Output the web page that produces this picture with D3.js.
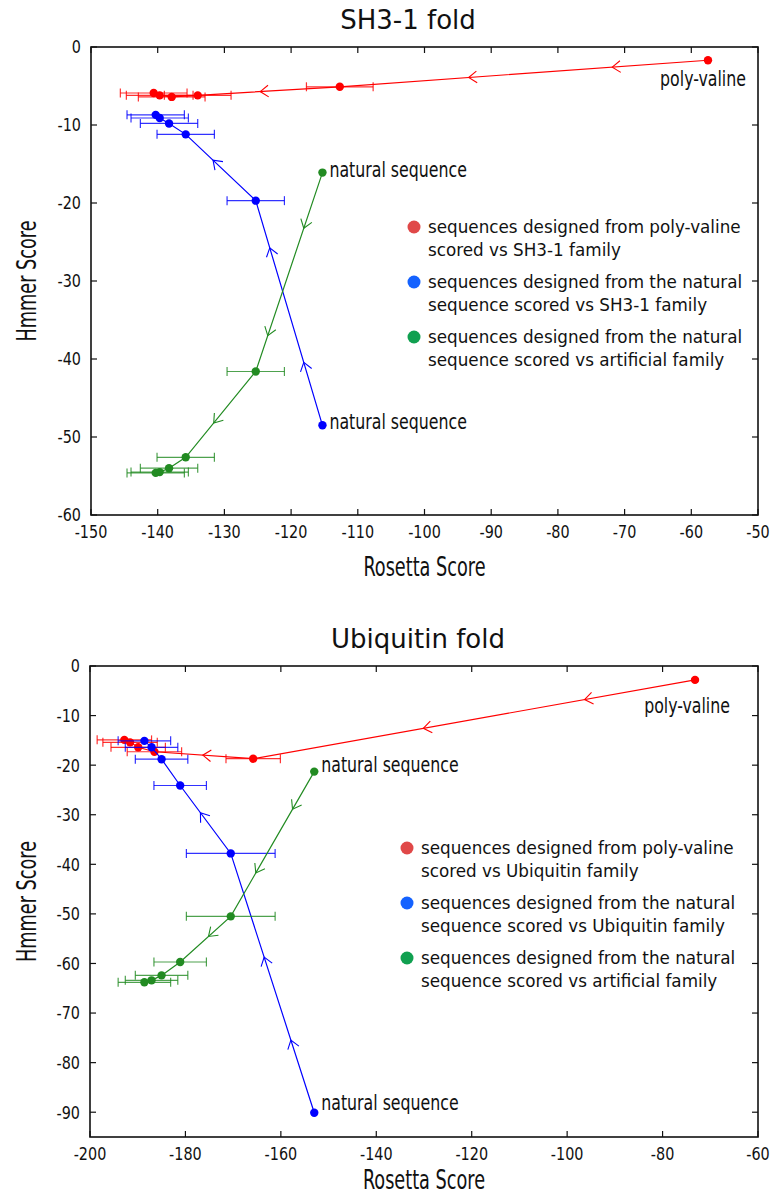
<!DOCTYPE html>
<html>
<head>
<meta charset="utf-8">
<script src="https://cdn.jsdelivr.net/npm/d3@7"></script>
<style>
  body { margin: 0; background: #fff; }
  svg { display: block; }
</style>
</head>
<body>
<div id="viz"></div>
<script>
// ---- SH3-1 fold data ----
var sh3RedX   = [-57.5, -112.7, -134.0, -137.9, -139.7, -140.6];
var sh3RedY   = [-1.7, -5.1, -6.2, -6.4, -6.2, -5.9];
var sh3RedErr = [0, 5, 5, 5, 5, 5];
var sh3NatX   = [-115.3, -125.3, -135.8, -138.3, -139.7, -140.3];
var sh3BlueY  = [-48.5, -19.7, -11.2, -9.8, -9.1, -8.7];
var sh3GreenY = [-16.1, -41.6, -52.6, -54.0, -54.5, -54.6];
var sh3NatErr = [0, 4.3, 4.3, 4.3, 4.3, 4.3];
// arrows: [segment index, fraction along segment]
var sh3RedArrows   = [[0, 0.26], [0, 0.65], [1, 0.56]];
var sh3BlueArrows  = [[0, 0.28], [0, 0.79], [1, 0.61]];
var sh3GreenArrows = [[0, 0.28], [0, 0.82], [1, 0.60]];
var sh3XTicks = [-150, -140, -130, -120, -110, -100, -90, -80, -70, -60, -50];
var sh3YTicks = [0, -10, -20, -30, -40, -50, -60];

// ---- Ubiquitin fold data ----
var ubqRedX   = [-73.2, -165.8, -186.5, -189.9, -191.6, -192.8];
var ubqRedY   = [-2.8, -18.7, -17.3, -16.4, -15.4, -14.9];
var ubqRedErr = [0, 5.7, 5.7, 5.7, 5.7, 5.7];
var ubqNatX   = [-153.0, -170.5, -181.1, -185.0, -187.1, -188.6];
var ubqBlueY  = [-90.1, -37.8, -24.1, -18.8, -16.4, -15.1];
var ubqGreenY = [-21.3, -50.5, -59.7, -62.4, -63.4, -63.8];
var ubqNatErr = [0, 9.3, 5.5, 5.5, 5.5, 5.5];
var ubqRedArrows   = [[0, 0.25], [0, 0.615], [1, 0.51]];
var ubqBlueArrows  = [[0, 0.28], [0, 0.60], [1, 0.60]];
var ubqGreenArrows = [[0, 0.26], [0, 0.70], [1, 0.44]];
var ubqXTicks = [-200, -180, -160, -140, -120, -100, -80, -60];
var ubqYTicks = [0, -10, -20, -30, -40, -50, -60, -70, -80, -90];

var legendSh3 = [
  ["sequences designed from poly-valine", "scored vs SH3-1 family"],
  ["sequences designed from the natural", "sequence scored vs SH3-1 family"],
  ["sequences designed from the natural", "sequence scored vs artificial family"]
];
var legendUbq = [
  ["sequences designed from poly-valine", "scored vs Ubiquitin family"],
  ["sequences designed from the natural", "sequence scored vs Ubiquitin family"],
  ["sequences designed from the natural", "sequence scored vs artificial family"]
];

var lineColors = ["#ff0000", "#0000ff", "#228b22"];
var legendColors = ["#e04848", "#1462ff", "#10a050"];

var svg = d3.select("#viz")
  .append("svg")
    .attr("width", 771)
    .attr("height", 1195);

var tickFont = "'Liberation Sans Narrow', 'DejaVu Sans Condensed', sans-serif";
var labelFont = "'DejaVu Sans Condensed', 'DejaVu Sans', sans-serif";

// text with a vertical stretch like the original picture
function stretchText(g, x, y, str, opts) {
  return g.append("text")
    .attr("transform", "translate(" + x + "," + y + ")" + (opts.rotate ? " rotate(-90)" : "") +
          " scale(" + (opts.sx || 1) + "," + (opts.sy || 1) + ")")
    .attr("text-anchor", opts.anchor || "middle")
    .attr("dominant-baseline", "central")
    .style("font-family", opts.font || labelFont)
    .style("font-size", opts.size + "px")
    .style("fill", opts.color || "#222")
    .text(str);
}

function drawChart(cfg) {
  var g = svg.append("g");
  var x = d3.scaleLinear().domain(cfg.xDomain).range([cfg.left, cfg.right]);
  var y = d3.scaleLinear().domain(cfg.yDomain).range([cfg.bottom, cfg.top]);

  // frame
  g.append("rect")
    .attr("x", cfg.left).attr("y", cfg.top)
    .attr("width", cfg.right - cfg.left).attr("height", cfg.bottom - cfg.top)
    .style("fill", "none").style("stroke", "#111").style("stroke-width", 1.6);

  // inward ticks on all 4 sides
  var tl = 6;
  cfg.xTicks.forEach(function(t) {
    g.append("line").attr("x1", x(t)).attr("x2", x(t)).attr("y1", cfg.bottom).attr("y2", cfg.bottom - tl)
      .style("stroke", "#111").style("stroke-width", 1.2);
    g.append("line").attr("x1", x(t)).attr("x2", x(t)).attr("y1", cfg.top).attr("y2", cfg.top + tl)
      .style("stroke", "#111").style("stroke-width", 1.2);
    stretchText(g, x(t), cfg.bottom + 17, t, {size: 16, font: tickFont, sy: 1.15, color: "#111"});
  });
  cfg.yTicks.forEach(function(t) {
    g.append("line").attr("x1", cfg.left).attr("x2", cfg.left + tl).attr("y1", y(t)).attr("y2", y(t))
      .style("stroke", "#111").style("stroke-width", 1.2);
    g.append("line").attr("x1", cfg.right).attr("x2", cfg.right - tl).attr("y1", y(t)).attr("y2", y(t))
      .style("stroke", "#111").style("stroke-width", 1.2);
    stretchText(g, cfg.left - 10, y(t), t, {size: 16, font: tickFont, sy: 1.15, anchor: "end", color: "#111"});
  });

  // titles
  stretchText(g, cfg.titleX, cfg.top - 27, cfg.title, {size: 26, font: "'DejaVu Sans', sans-serif", color: "#111"});
  stretchText(g, (cfg.left + cfg.right) / 2, cfg.bottom + cfg.xTitleDy, "Rosetta Score", {size: 24, sx: 0.82, sy: 1.12, color: "#111"});
  stretchText(g, 27, (cfg.top + cfg.bottom) / 2, "Hmmer Score", {size: 24, sx: 0.82, sy: 1.12, rotate: true, color: "#111"});

  // series
  cfg.series.forEach(function(s) {
    var pts = s.x.map(function(v, i) { return {x: v, y: s.y[i], e: s.err[i]}; });
    var sg = g.append("g");

    // error bars
    pts.filter(function(d) { return d.e > 0; }).forEach(function(d) {
      var x0 = x(d.x - d.e), x1 = x(d.x + d.e), py = y(d.y);
      sg.append("line").attr("x1", x0).attr("x2", x1).attr("y1", py).attr("y2", py)
        .style("stroke", s.color).style("stroke-width", 1.2).style("opacity", 0.8);
      [x0, x1].forEach(function(cx) {
        sg.append("line").attr("x1", cx).attr("x2", cx).attr("y1", py - 4.5).attr("y2", py + 4.5)
          .style("stroke", s.color).style("stroke-width", 1.2).style("opacity", 0.8);
      });
    });

    sg.append("path")
      .datum(pts)
      .attr("d", d3.line().x(function(d) { return x(d.x); }).y(function(d) { return y(d.y); }))
      .style("fill", "none")
      .style("stroke", s.color)
      .style("stroke-width", 1.2);

    // open arrowheads along the path
    s.arrows.forEach(function(a) {
      var p0 = pts[a[0]], p1 = pts[a[0] + 1];
      var ax = x(p0.x) + (x(p1.x) - x(p0.x)) * a[1];
      var ay = y(p0.y) + (y(p1.y) - y(p0.y)) * a[1];
      var ang = Math.atan2(y(p1.y) - y(p0.y), x(p1.x) - x(p0.x));
      var len = 10, spread = 0.62;
      var d = "M" + (ax - len * Math.cos(ang - spread)) + "," + (ay - len * Math.sin(ang - spread)) +
              "L" + ax + "," + ay +
              "L" + (ax - len * Math.cos(ang + spread)) + "," + (ay - len * Math.sin(ang + spread));
      sg.append("path").attr("d", d)
        .style("fill", "none").style("stroke", s.color).style("stroke-width", 1.1);
    });

    sg.selectAll("circle")
      .data(pts)
      .enter()
      .append("circle")
        .attr("cx", function(d) { return x(d.x); })
        .attr("cy", function(d) { return y(d.y); })
        .attr("r", 4.2)
        .style("fill", s.color);

    if (s.label) {
      var p = pts[0];
      stretchText(g, x(p.x) + s.label.dx, y(p.y) + s.label.dy, s.label.text,
        {size: 19.5, sx: 0.9, sy: 1.1, anchor: s.label.anchor, color: "#111"});
    }
  });

  // legend
  cfg.legend.forEach(function(lines, i) {
    var ly = cfg.legendY + i * 55;
    g.append("circle").attr("cx", cfg.legendX).attr("cy", ly).attr("r", 6.5).style("fill", legendColors[i]);
    lines.forEach(function(t, j) {
      stretchText(g, cfg.legendX + 14, ly + j * 22.5, t, {size: 16.8, anchor: "start", font: "'DejaVu Sans', sans-serif", color: "#111"});
    });
  });
}

drawChart({
  title: "SH3-1 fold", titleX: 408, xTitleDy: 52,
  left: 91, right: 758, top: 47, bottom: 515,
  xDomain: [-150, -50], yDomain: [-60, 0],
  xTicks: sh3XTicks, yTicks: sh3YTicks,
  legendX: 414, legendY: 227,
  legend: legendSh3,
  series: [
    {x: sh3RedX, y: sh3RedY, err: sh3RedErr, color: lineColors[0], arrows: sh3RedArrows,
      label: {text: "poly-valine", dx: -5, dy: 19, anchor: "middle"}},
    {x: sh3NatX, y: sh3BlueY, err: sh3NatErr, color: lineColors[1], arrows: sh3BlueArrows,
      label: {text: "natural sequence", dx: 7, dy: -3, anchor: "start"}},
    {x: sh3NatX, y: sh3GreenY, err: sh3NatErr, color: lineColors[2], arrows: sh3GreenArrows,
      label: {text: "natural sequence", dx: 7, dy: -3, anchor: "start"}}
  ]
});

drawChart({
  title: "Ubiquitin fold", titleX: 418, xTitleDy: 43,
  left: 90, right: 758, top: 666, bottom: 1137,
  xDomain: [-200, -60], yDomain: [-95, 0],
  xTicks: ubqXTicks, yTicks: ubqYTicks,
  legendX: 407, legendY: 848,
  legend: legendUbq,
  series: [
    {x: ubqRedX, y: ubqRedY, err: ubqRedErr, color: lineColors[0], arrows: ubqRedArrows,
      label: {text: "poly-valine", dx: -8, dy: 26, anchor: "middle"}},
    {x: ubqNatX, y: ubqBlueY, err: ubqNatErr, color: lineColors[1], arrows: ubqBlueArrows,
      label: {text: "natural sequence", dx: 7, dy: -10, anchor: "start"}},
    {x: ubqNatX, y: ubqGreenY, err: ubqNatErr, color: lineColors[2], arrows: ubqGreenArrows,
      label: {text: "natural sequence", dx: 7, dy: -7, anchor: "start"}}
  ]
});
</script>
</body>
</html>
